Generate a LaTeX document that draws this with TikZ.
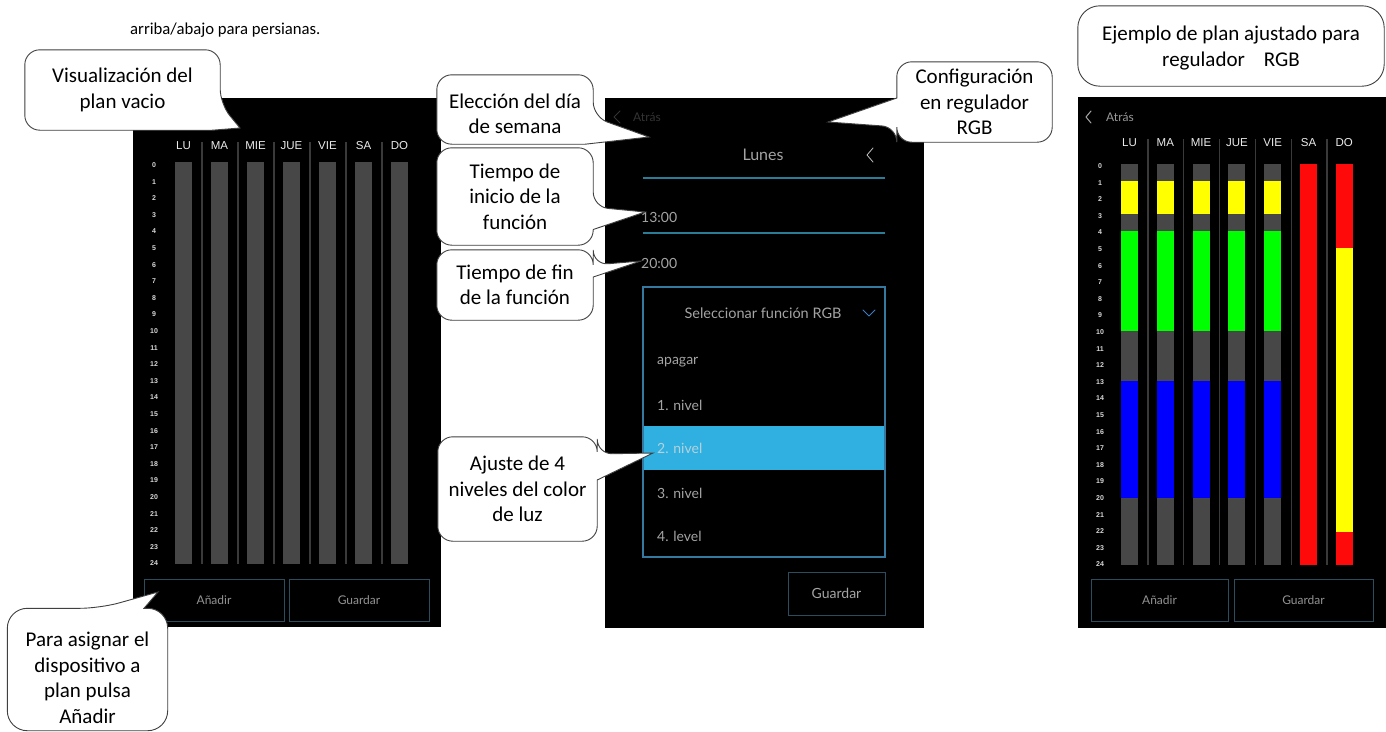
\documentclass[tikz,border=0pt]{standalone}
\usepackage{fontspec}
\setmainfont{Carlito}
\newfontfamily\uifont{Lato}
\newfontfamily\labelfont{Liberation Sans}
\usetikzlibrary{calc}

\pgfdeclarelayer{screens}
\pgfdeclarelayer{bubbles}
\pgfsetlayers{screens,bubbles,main}

\definecolor{bargray}{HTML}{474747}
\definecolor{sepgray}{HTML}{3A3A3A}
\definecolor{btnedge}{HTML}{2C4D5E}
\definecolor{tealline}{HTML}{2B7C96}
\definecolor{dropedge}{HTML}{3579A0}
\definecolor{hilite}{HTML}{30B0E0}
\definecolor{hilitetext}{HTML}{B4D2DC}
\definecolor{uitext}{HTML}{A4A4A4}
\definecolor{dimtext}{HTML}{333333}
\definecolor{chevblue}{HTML}{3C7DC4}
\definecolor{bubbleedge}{HTML}{404040}
\definecolor{rgbred}{HTML}{FF0A0A}
\definecolor{rgbyellow}{HTML}{FFFF00}
\definecolor{rgbgreen}{HTML}{00FF00}
\definecolor{rgbblue}{HTML}{0000FF}

\begin{document}
\begin{tikzpicture}[x=1pt,y=-1pt,
  bubble/.style={inner sep=0pt, align=center, text=black,
    font=\fontsize{21}{25.5}\selectfont},
  bubbleline/.style={draw=bubbleedge, fill=white, line width=0.9pt, rounded corners=15pt},
  daylabel/.style={font=\labelfont\fontsize{11.5}{13}\selectfont, text=white!92!black},
  hourlabel/.style={font=\labelfont\bfseries\fontsize{7}{8}\selectfont, text=white!85!black},
  btn/.style={draw=btnedge, line width=1pt, inner sep=0pt, text=gray!85,
    font=\uifont\fontsize{12}{14}\selectfont},
  uilabel/.style={font=\uifont\fontsize{14}{16}\selectfont, text=uitext, inner sep=0pt},
  sep/.style={draw=sepgray, line width=1.2pt},
  chevron/.style={line width=1pt, line cap=round, line join=round}
]
\useasboundingbox (0,0) rectangle (1386,731);

\begin{pgfonlayer}{screens}
  \fill[white] (0,0) rectangle (1386,731);

  % ---- weekly plan, empty ----
  \fill[black] (133,98) rectangle (441,627);
  \foreach \j in {0,...,5}
    \draw[sep] (202+36*\j,142) -- (202+36*\j,564);
  \foreach \d [count=\i from 0] in {LU,MA,MIE,JUE,VIE,SA,DO} {
    \fill[bargray] (175+36*\i,162) rectangle ++(17,402);
    \node[daylabel] (pa-d\i) at (183.5+36*\i,146) {\d};
  }
  \foreach \k in {0,...,24}
    \node[hourlabel] (pa-h\k) at (154,165+16.6*\k) {\k};
  \node[btn, minimum width=140pt, minimum height=42pt] (pa-add) at (214,600) {Añadir};
  \node[btn, minimum width=140pt, minimum height=42pt] (pa-save) at (359,600) {Guardar};

  % ---- day editor with RGB function list ----
  \fill[black] (605,98) rectangle (924,628);
  \draw[chevron, dimtext] (620,111) -- (614,117) -- (620,123);
  \node[uilabel, text=dimtext, font=\uifont\fontsize{12}{14}\selectfont, anchor=west] (pb-back) at (633,117) {Atrás};
  \node[uilabel, font=\uifont\fontsize{16}{18}\selectfont, text=uitext] (pb-day) at (763,155) {Lunes};
  \draw[chevron, white!75!black, line width=0.8pt] (873,148) -- (867,155) -- (873,162);
  \draw[tealline, line width=1.5pt] (643,178) -- (885,178);
  \node[uilabel, anchor=west] (pb-start) at (641,217) {13:00};
  \draw[tealline, line width=1.5pt] (643,233) -- (885,233);
  \node[uilabel, anchor=west] (pb-end) at (641,263) {20:00};
  \fill[hilite] (643,426) rectangle (885,470);
  \draw[dropedge, line width=1.5pt] (643,287) rectangle (885,557);
  \node[uilabel, font=\uifont\fontsize{14.5}{16}\selectfont] (pb-select) at (763,313) {Seleccionar función RGB};
  \draw[chevron, chevblue] (863,310) -- (869,316) -- (875,310);
  \node[uilabel, anchor=west] (pb-off) at (657,362) {apagar};
  \node[uilabel, anchor=west] (pb-l1) at (657,405) {1. nivel};
  \node[uilabel, anchor=west, text=hilitetext] (pb-l2) at (657,448) {2. nivel};
  \node[uilabel, anchor=west] (pb-l3) at (657,493) {3. nivel};
  \node[uilabel, anchor=west] (pb-l4) at (657,536) {4. level};
  \node[btn, minimum width=97pt, minimum height=43pt, font=\uifont\fontsize{14}{16}\selectfont,
        text=uitext] (pb-save) at (836.5,593.5) {Guardar};

  % ---- weekly plan, RGB example ----
  \fill[black] (1078,97) rectangle (1386,628);
  \draw[chevron, white!65!black] (1091,111) -- (1086,117) -- (1091,123);
  \node[uilabel, anchor=west, text=white!60!black, font=\uifont\fontsize{12}{14}\selectfont] (pc-back) at (1106,117) {Atrás};
  \foreach \j in {0,...,5}
    \draw[sep] (1148+35.8*\j,139) -- (1148+35.8*\j,565);
  \foreach \d [count=\i from 0] in {LU,MA,MIE,JUE,VIE,SA,DO}
    \node[daylabel] (pc-d\i) at (1129.5+35.8*\i,143) {\d};
  \foreach \i in {0,...,4}
    \foreach \a/\b/\c in {0/1/bargray,1/3/rgbyellow,3/4/bargray,4/10/rgbgreen,
                          10/13/bargray,13/20/rgbblue,20/24/bargray}
      \fill[\c] (1121+35.8*\i,164+16.708*\a) rectangle (1138+35.8*\i,164+16.708*\b);
  \fill[rgbred] (1300,164) rectangle (1317,565);
  \foreach \a/\b/\c in {0/5/rgbred,5/22/rgbyellow,22/24/rgbred}
    \fill[\c] (1336,164+16.708*\a) rectangle (1353,164+16.708*\b);
  \foreach \k in {0,...,24}
    \node[hourlabel] (pc-h\k) at (1100,166+16.6*\k) {\k};
  \node[btn, minimum width=137pt, minimum height=42pt] (pc-add) at (1159.5,600) {Añadir};
  \node[btn, minimum width=139pt, minimum height=42pt] (pc-save) at (1303.5,600) {Guardar};
\end{pgfonlayer}

% ---- text above the screens ----
\node[anchor=base west, inner sep=0pt, font=\fontsize{16.7}{20}\selectfont] (intro) at (130,34)
  {arriba/abajo para persianas.};

% ---- callouts ----
\node[bubble, minimum width=195pt, minimum height=80pt] (c1) at (122.5,90)
  {Visualización del\\plan vacio};
\node[bubble, minimum width=156pt, minimum height=69pt] (c2) at (515,109.5)
  {\rule{0pt}{23pt}Elección del día\\de semana};
\node[bubble, minimum width=156pt, minimum height=97pt] (c3) at (515,196.5)
  {Tiempo de\\inicio de la\\función};
\node[bubble, minimum width=156pt, minimum height=70pt] (c4) at (515,285)
  {Tiempo de fin\\de la función};
\node[bubble, minimum width=159pt, minimum height=104pt] (c5) at (517.5,489)
  {Ajuste de 4\\niveles del color\\de luz};
\node[bubble, minimum width=160pt, minimum height=122pt] (c6) at (87.5,669.5)
  {\rule{0pt}{31pt}Para asignar el\\dispositivo a\\plan pulsa\\Añadir};
\node[bubble, minimum width=155pt, minimum height=80pt] (c7) at (974.5,102)
  {Configuración\\en regulador\\RGB};
\node[bubble, minimum width=306pt, minimum height=80pt] (c8) at (1231,46)
  {\rule{0pt}{19pt}Ejemplo de plan ajustado para\\regulador~~~~RGB};

\coordinate (t1) at (240,128);
\coordinate (t2) at (649,137);
\coordinate (t3) at (645,212);
\coordinate (t4) at (641,261);
\coordinate (t5) at (653,453);
\coordinate (t6) at (158,592);
\coordinate (t7) at (828,122);

\begin{pgfonlayer}{bubbles}
  \draw[bubbleline] (c1.north) -- (c1.north east) -- ($(c1.east)+(0,14)$) [sharp corners]
    -- (t1) -- ($(c1.south east)+(-8,0)$) [rounded corners=15pt] -- (c1.south west)
    -- (c1.north west) -- cycle;
  \draw[bubbleline] (c2.north) -- (c2.north east) -- ($(c2.east)+(0,7.5)$) [sharp corners]
    -- (t2) -- ($(c2.south east)+(-8,0)$) [rounded corners=15pt] -- (c2.south west)
    -- (c2.north west) -- cycle;
  \draw[bubbleline] (c3.north) -- (c3.north east) -- ($(c3.east)+(0,10.5)$) [sharp corners]
    -- (t3) -- ($(c3.east)+(0,33)$) [rounded corners=15pt] -- (c3.south east)
    -- (c3.south west) -- (c3.north west) -- cycle;
  \draw[bubbleline] (c4.north) -- (c4.north east) -- ($(c4.east)+(0,-20)$) [sharp corners]
    -- (t4) -- ($(c4.east)+(0,-8)$) [rounded corners=15pt] -- (c4.south east)
    -- (c4.south west) -- (c4.north west) -- cycle;
  \draw[bubbleline] (c5.north) -- (c5.north east) -- ($(c5.east)+(0,-35)$) [sharp corners]
    -- (t5) -- ($(c5.east)+(0,-9)$) [rounded corners=15pt] -- (c5.south east)
    -- (c5.south west) -- (c5.north west) -- cycle;
  \draw[bubbleline, rounded corners=20pt] (c6.west) -- (c6.north west) -- ($(c6.north)+(12.5,0)$) [sharp corners]
    -- (t6) -- ($(c6.north)+(56.5,0)$) [rounded corners=20pt] -- (c6.north east)
    -- (c6.south east) -- (c6.south west) -- cycle;
  \draw[bubbleline] (c7.north) -- (c7.north east) -- (c7.south east) -- (c7.south west)
    -- ($(c7.west)+(0,25)$) [sharp corners] -- (t7) -- ($(c7.west)+(0,-4)$)
    [rounded corners=15pt] -- (c7.north west) -- cycle;
  \draw[bubbleline, rounded corners=22pt] (c8.north west) rectangle (c8.south east);
\end{pgfonlayer}
\end{tikzpicture}
\end{document}
